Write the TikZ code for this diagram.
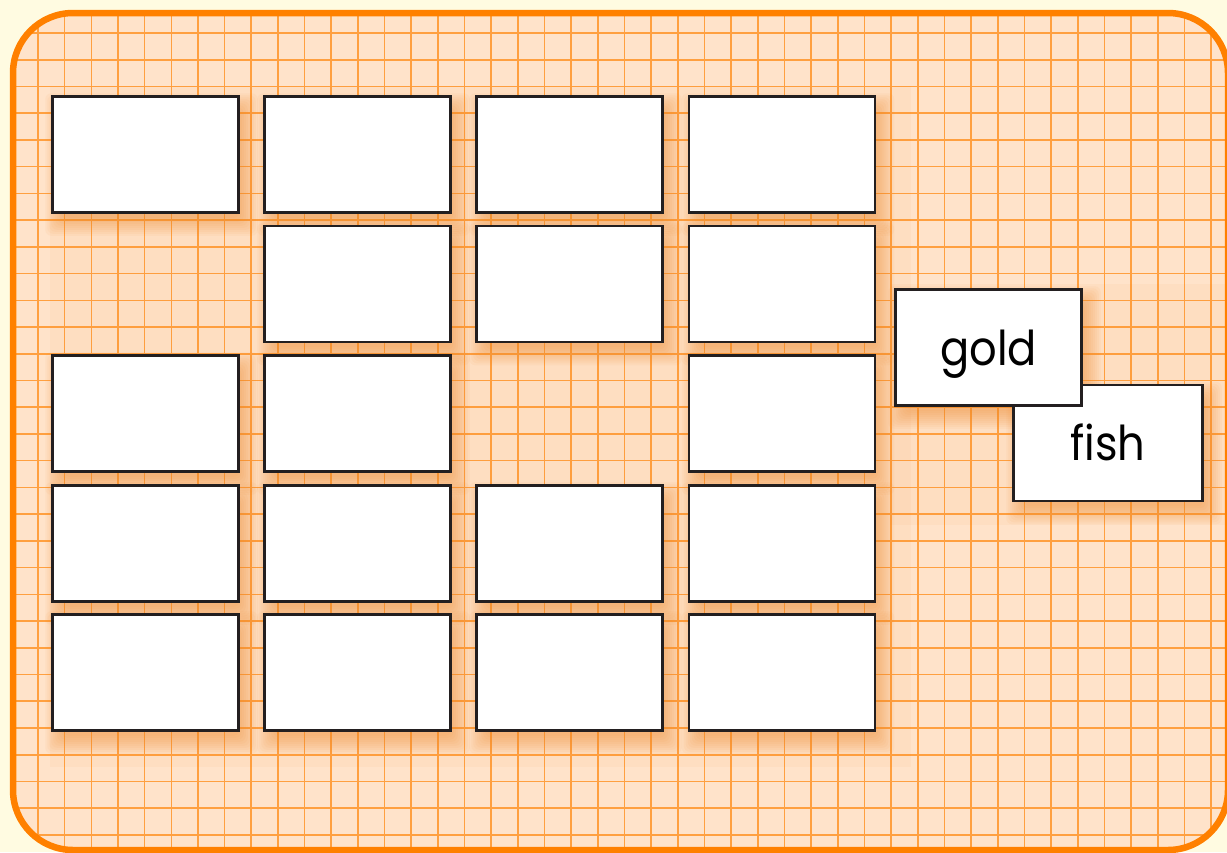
\documentclass[tikz,border=0pt]{standalone}
\usepackage{fontspec}
\newfontfamily\cardfont[FakeStretch=0.9]{Poppins}
\usetikzlibrary{backgrounds}

\definecolor{paper}{HTML}{FFFBE1}
\definecolor{peach}{HTML}{FFE3CA}
\definecolor{gridorange}{HTML}{FFA040}
\definecolor{frameorange}{HTML}{FF8000}
\definecolor{cardline}{HTML}{231F20}
\definecolor{shadoworange}{HTML}{F58A2A}

\begin{document}
\begin{tikzpicture}[x=1pt, y=-1pt,
    card/.style={draw=cardline, line width=2.5pt, fill=white, rectangle,
        minimum width=186pt, minimum height=116pt, inner sep=0pt},
    word/.style={card, font=\cardfont\fontsize{48}{48}\selectfont,
        text height=35pt, text depth=0pt},
    gridline/.style={gridorange, line width=1.6pt},
    tint/.style={fill=shadoworange, opacity=0.05},
    cardshadow/.style={fill=shadoworange, opacity=0.06, rounded corners=6pt}]
    \useasboundingbox (0,0) rectangle (1227,852);

    % Zeile 1
    \node[card] (c11) at (145.5, 154.5) {};
    \node[card] (c12) at (357.5, 154.5) {};
    \node[card] (c13) at (569.5, 154.5) {};
    \node[card] (c14) at (782, 154.5) {};

    % Zeile 2
    \node[card] (c22) at (357.5, 284) {};
    \node[card] (c23) at (569.5, 284) {};
    \node[card] (c24) at (782, 284) {};

    % Zeile 3
    \node[card] (c31) at (145.5, 413.5) {};
    \node[card] (c32) at (357.5, 413.5) {};
    \node[card] (c34) at (782, 413.5) {};

    % Zeile 4
    \node[card] (c41) at (145.5, 543.5) {};
    \node[card] (c42) at (357.5, 543.5) {};
    \node[card] (c43) at (569.5, 543.5) {};
    \node[card] (c44) at (782, 543.5) {};

    % Zeile 5
    \node[card] (c51) at (145.5, 672.5) {};
    \node[card] (c52) at (357.5, 672.5) {};
    \node[card] (c53) at (569.5, 672.5) {};
    \node[card] (c54) at (782, 672.5) {};

    % Wortkarten
    \node[word, minimum width=189pt] (fish) at (1108, 443) {fish};
    \node[word] (gold) at (988.5, 347.5) {gold};

    % Hintergrund, Raster, Schatten
    \begin{scope}[on background layer]
        \fill[paper] (0,0) rectangle (1227,852);
        \fill[peach, rounded corners=60pt] (13,13) rectangle (1228,850);
        \begin{scope}
            \clip[rounded corners=60pt] (13,13) rectangle (1228,850);
            \foreach \i in {0,...,44}
                \draw[gridline] ({38+26.66*\i},0) -- ++(0,852);
            \foreach \j in {0,...,30}
                \draw[gridline] (0,{33+26.73*\j}) -- ++(1227,0);
            \fill[tint] (50,86) rectangle (911,767);
            \fill[tint] (890,284) rectangle (1227,525);
            \foreach \c in {c11,c12,c13,c14,c22,c23,c24,c31,c32,c34,
                            c41,c42,c43,c44,c51,c52,c53,c54,fish,gold}
                \foreach \k in {0,...,9} {
                    \pgfmathsetmacro\r{2*\k-6}
                    \fill[cardshadow]
                        ([shift={({6-\r},{10-\r})}]\c.north west) rectangle
                        ([shift={({6+\r},{10+\r})}]\c.south east);
                }
        \end{scope}
        \draw[frameorange, line width=6.5pt, rounded corners=60pt]
            (13,13) rectangle (1228,850);
    \end{scope}
\end{tikzpicture}
\end{document}
